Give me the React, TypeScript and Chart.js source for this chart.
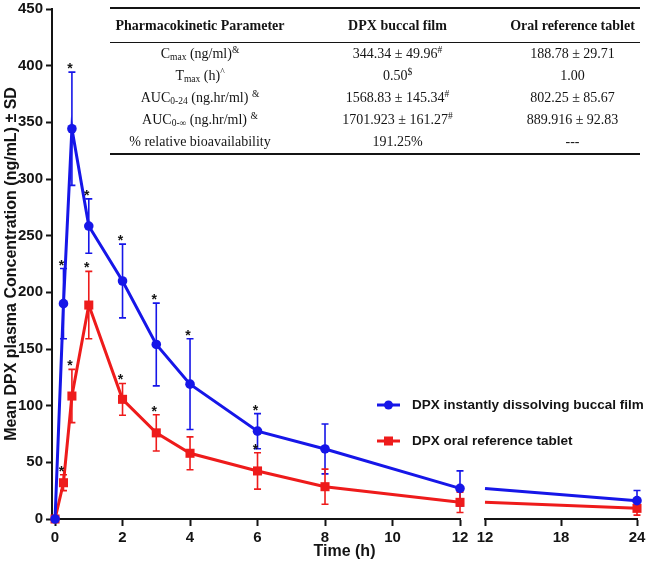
import React, { useEffect, useRef } from 'react';
import { Chart, registerables } from 'chart.js';

Chart.register(...registerables);

const BLUE = '#1616e8';
const RED = '#ee1b1b';
const INK = '#141414';
const SANS = '"Liberation Sans", Arial, sans-serif';
const SERIF = '"Liberation Serif", "Times New Roman", serif';

// ---------- data ----------
const seriesNames = ['DPX instantly dissolving buccal film', 'DPX oral reference tablet'];
const timesEarly = [0, 0.25, 0.5, 1, 2, 3, 4, 6, 8, 12];
const timesLate = [12, 24];

const filmMean = [0, 190, 344.34, 258.5, 210, 154, 119, 77.5, 61.8, 27];
const filmSD = [0, 31, 49.96, 24, 32.5, 36.5, 40, 15.5, 22, 15.5];
const filmStars = [false, true, true, true, true, true, true, true, false, false];
const filmLateMean = [27, 16.2];
const filmLateSD = [0, 9];

const tabletMean = [0, 32, 108.5, 188.78, 105.6, 76, 58, 42.4, 28.5, 14.7];
const tabletSD = [0, 7, 23.5, 29.71, 14, 16, 14.5, 16, 15.5, 9];
const tabletStars = [false, true, true, true, true, true, false, true, false, false];
const tabletLateMean = [14.7, 9.4];
const tabletLateSD = [0, 6];

const xTicksEarly = [0, 2, 4, 6, 8, 10, 12];
const xTicksLate = [12, 18, 24];
const yTicks = [0, 50, 100, 150, 200, 250, 300, 350, 400, 450];
const yTitle = 'Mean DPX plasma Concentration (ng/mL) ± SD';
const xTitle = 'Time (h)';

// table
const tableHeader = ['Pharmacokinetic Parameter', 'DPX buccal film', 'Oral reference tablet'];
const paramBase = ['C', 'T', 'AUC', 'AUC', '% relative bioavailability'];
const paramSub = ['max', 'max', '0-24', '0-\u221e', ''];
const paramUnit = [' (ng/ml)', ' (h)', ' (ng.hr/ml) ', ' (ng.hr/ml) ', ''];
const paramSup = ['&', '^', '&', '&', ''];
const filmValues = ['344.34 ± 49.96', '0.50', '1568.83 ± 145.34', '1701.923 ± 161.27', '191.25%'];
const filmSup = ['#', '$', '#', '#', ''];
const tabletValues = ['188.78 ± 29.71', '1.00', '802.25 ± 85.67', '889.916 ± 92.83', '---'];

const pts = (xs: number[], ys: number[]) => xs.map((x, i) => ({ x, y: ys[i] }));

const errorBarPlugin = {
  id: 'errorBars',
  beforeDatasetsDraw(chart: any) {
    const ctx = chart.ctx;
    const yScale = chart.scales.y;
    chart.data.datasets.forEach((ds: any, i: number) => {
      const meta = chart.getDatasetMeta(i);
      meta.data.forEach((el: any, j: number) => {
        const s = ds.sd ? ds.sd[j] : 0;
        if (!s) return;
        const v = ds.data[j].y;
        const x = el.x;
        const yt = yScale.getPixelForValue(v + s);
        const yb = yScale.getPixelForValue(Math.max(v - s, 0));
        ctx.save();
        ctx.strokeStyle = ds.borderColor;
        ctx.lineWidth = 1.6;
        ctx.beginPath();
        ctx.moveTo(x, yt);
        ctx.lineTo(x, yb);
        ctx.moveTo(x - 3.5, yt);
        ctx.lineTo(x + 3.5, yt);
        ctx.moveTo(x - 3.5, yb);
        ctx.lineTo(x + 3.5, yb);
        ctx.stroke();
        ctx.restore();
      });
    });
  },
  afterDatasetsDraw(chart: any) {
    const ctx = chart.ctx;
    const yScale = chart.scales.y;
    chart.data.datasets.forEach((ds: any, i: number) => {
      if (!ds.stars) return;
      const meta = chart.getDatasetMeta(i);
      meta.data.forEach((el: any, j: number) => {
        if (!ds.stars[j]) return;
        const v = ds.data[j].y + (ds.sd ? ds.sd[j] : 0);
        const yt = yScale.getPixelForValue(v);
        ctx.save();
        ctx.fillStyle = INK;
        ctx.font = 'bold 14px ' + SANS;
        ctx.textAlign = 'center';
        ctx.textBaseline = 'alphabetic';
        ctx.fillText('*', el.x - 2, yt + 1);
        ctx.restore();
      });
    });
  },
  afterDraw(chart: any) {
    const ctx = chart.ctx;
    const area = chart.chartArea;
    // x title
    ctx.save();
    ctx.fillStyle = INK;
    ctx.font = 'bold 16px ' + SANS;
    ctx.textAlign = 'center';
    ctx.textBaseline = 'middle';
    ctx.fillText(xTitle, (area.left + area.right) / 2, 552);
    ctx.restore();
    // legend
    const items = [
      { label: seriesNames[0], color: BLUE, shape: 'circle', y: 405 },
      { label: seriesNames[1], color: RED, shape: 'rect', y: 441 },
    ];
    items.forEach((it) => {
      ctx.save();
      ctx.strokeStyle = it.color;
      ctx.fillStyle = it.color;
      ctx.lineWidth = 3;
      ctx.beginPath();
      ctx.moveTo(377, it.y);
      ctx.lineTo(400, it.y);
      ctx.stroke();
      if (it.shape === 'circle') {
        ctx.beginPath();
        ctx.arc(388.5, it.y, 4.5, 0, Math.PI * 2);
        ctx.fill();
      } else {
        ctx.fillRect(388.5 - 4.5, it.y - 4.5, 9, 9);
      }
      ctx.fillStyle = INK;
      ctx.font = 'bold 13.5px ' + SANS;
      ctx.textAlign = 'left';
      ctx.textBaseline = 'middle';
      ctx.fillText(it.label, 412, it.y);
      ctx.restore();
    });
  },
};

const tickFont = { family: SANS, size: 15, weight: 'bold' as const };

export default function App() {
  const ref = useRef<HTMLCanvasElement>(null);
  useEffect(() => {
    if (!ref.current) return;
    const common = {
      borderWidth: 3,
      pointBorderWidth: 0,
      tension: 0,
      clip: false as any,
    };
    const chart = new Chart(ref.current, {
      type: 'line',
      data: {
        datasets: [
          {
            label: seriesNames[0],
            data: pts(timesEarly, filmMean),
            xAxisID: 'x',
            yAxisID: 'y',
            borderColor: BLUE,
            backgroundColor: BLUE,
            pointStyle: 'circle',
            pointRadius: 4.8,
            sd: filmSD,
            stars: filmStars,
            ...common,
          } as any,
          {
            label: seriesNames[1],
            data: pts(timesEarly, tabletMean),
            xAxisID: 'x',
            yAxisID: 'y',
            borderColor: RED,
            backgroundColor: RED,
            pointStyle: 'rect',
            pointRadius: 6.4,
            sd: tabletSD,
            stars: tabletStars,
            ...common,
          } as any,
          {
            label: seriesNames[0] + ' (late)',
            data: pts(timesLate, filmLateMean),
            xAxisID: 'x2',
            yAxisID: 'y',
            borderColor: BLUE,
            backgroundColor: BLUE,
            pointStyle: 'circle',
            pointRadius: [0, 4.8],
            sd: filmLateSD,
            ...common,
          } as any,
          {
            label: seriesNames[1] + ' (late)',
            data: pts(timesLate, tabletLateMean),
            xAxisID: 'x2',
            yAxisID: 'y',
            borderColor: RED,
            backgroundColor: RED,
            pointStyle: 'rect',
            pointRadius: [0, 6.4],
            sd: tabletLateSD,
            ...common,
          } as any,
        ],
      },
      options: {
        responsive: false,
        animation: false,
        events: [],
        layout: { padding: { top: 9, right: 16, left: 0, bottom: 0 } },
        plugins: { legend: { display: false }, tooltip: { enabled: false } },
        scales: {
          x: {
            type: 'linear',
            position: 'bottom',
            stack: 'time',
            stackWeight: 408,
            min: -0.09,
            max: 12,
            afterBuildTicks: (s: any) => {
              s.ticks = xTicksEarly.map((v) => ({ value: v }));
            },
            afterFit: (s: any) => {
              s.height = 46;
              s.paddingLeft = 0;
              s.paddingRight = 0;
            },
            ticks: { font: tickFont, color: INK, padding: 3, autoSkip: false, maxRotation: 0 },
            grid: { drawOnChartArea: false, drawTicks: true, tickLength: 7, tickWidth: 2, tickColor: INK },
            border: { display: true, color: INK, width: 2 },
          },
          xgap: {
            type: 'linear',
            position: 'bottom',
            stack: 'time',
            stackWeight: 25,
            afterFit: (s: any) => {
              s.height = 46;
              s.paddingLeft = 0;
              s.paddingRight = 0;
            },
            ticks: { display: false },
            grid: { display: false },
            border: { display: false },
          },
          x2: {
            type: 'linear',
            position: 'bottom',
            stack: 'time',
            stackWeight: 152,
            min: 12,
            max: 24,
            afterBuildTicks: (s: any) => {
              s.ticks = xTicksLate.map((v) => ({ value: v }));
            },
            afterFit: (s: any) => {
              s.height = 46;
              s.paddingLeft = 0;
              s.paddingRight = 0;
            },
            ticks: { font: tickFont, color: INK, padding: 3, autoSkip: false, maxRotation: 0 },
            grid: { drawOnChartArea: false, drawTicks: true, tickLength: 7, tickWidth: 2, tickColor: INK },
            border: { display: true, color: INK, width: 2 },
          },
          y: {
            type: 'linear',
            position: 'left',
            min: 0,
            max: 450,
            afterBuildTicks: (s: any) => {
              s.ticks = yTicks.map((v) => ({ value: v }));
            },
            afterFit: (s: any) => {
              s.width = 52;
              s.paddingTop = 0;
              s.paddingBottom = 0;
            },
            ticks: { font: tickFont, color: INK, padding: 3 },
            grid: { drawOnChartArea: false, drawTicks: true, tickLength: 6, tickWidth: 2, tickColor: INK },
            border: { display: true, color: INK, width: 2 },
            title: {
              display: true,
              text: yTitle,
              color: INK,
              font: { family: SANS, size: 16, weight: 'bold' },
              padding: { top: 2, bottom: 0 },
            },
          },
        },
      } as any,
      plugins: [errorBarPlugin],
    });
    return () => chart.destroy();
  }, []);

  const cell = (w: number): React.CSSProperties => ({
    width: w,
    textAlign: 'center',
    whiteSpace: 'nowrap',
  });
  const widths = [180, 215, 135];
  const sub: React.CSSProperties = { fontSize: 9.5, position: 'relative', top: 2 };
  const sup: React.CSSProperties = { fontSize: 9.5, position: 'relative', top: -5 };

  return (
    <div style={{ position: 'absolute', left: 0, top: 0, width: 653, height: 565, background: '#fff' }}>
      <canvas ref={ref} width={653} height={565} style={{ display: 'block' }} />
      <div
        style={{
          position: 'absolute',
          left: 110,
          top: 7,
          width: 530,
          fontFamily: SERIF,
          fontSize: 14,
          color: INK,
          lineHeight: '16px',
        }}
      >
        <div style={{ borderTop: '2.5px solid ' + INK }} />
        <div style={{ display: 'flex', alignItems: 'center', height: 33, fontWeight: 'bold' }}>
          {tableHeader.map((h, i) => (
            <div key={i} style={cell(widths[i])}>
              {h}
            </div>
          ))}
        </div>
        <div style={{ borderTop: '1.5px solid ' + INK }} />
        {paramBase.map((p, r) => (
          <div key={r} style={{ display: 'flex', alignItems: 'center', height: 22 }}>
            <div style={cell(widths[0])}>
              {p}
              {paramSub[r] && <span style={sub}>{paramSub[r]}</span>}
              {paramUnit[r]}
              {paramSup[r] && <span style={sup}>{paramSup[r]}</span>}
            </div>
            <div style={cell(widths[1])}>
              {filmValues[r]}
              {filmSup[r] && <span style={sup}>{filmSup[r]}</span>}
            </div>
            <div style={cell(widths[2])}>{tabletValues[r]}</div>
          </div>
        ))}
        <div style={{ borderTop: '2.5px solid ' + INK }} />
      </div>
    </div>
  );
}
